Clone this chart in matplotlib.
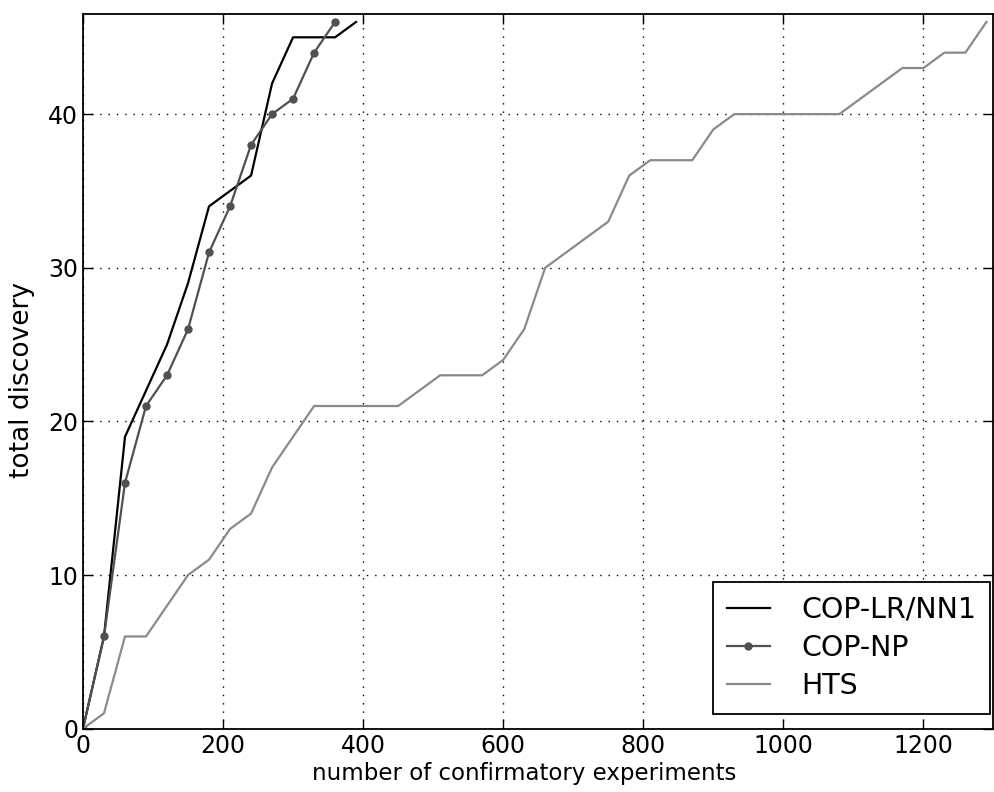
import numpy as np
import matplotlib
matplotlib.use("Agg")
import matplotlib.pyplot as plt

# experiments are sampled every 30 confirmatory runs
lr_x = [0, 30, 60, 90, 120, 150, 180, 210, 240, 270, 300, 330, 360, 390]
lr_y = [0, 6, 19, 22, 25, 29, 34, 35, 36, 42, 45, 45, 45, 46]

np_x = [0, 30, 60, 90, 120, 150, 180, 210, 240, 270, 300, 330, 360]
np_y = [0, 6, 16, 21, 23, 26, 31, 34, 38, 40, 41, 44, 46]

hts_x = list(range(0, 1291, 30))
hts_y = [0, 1, 6, 6, 8, 10, 11, 13, 14, 17, 19, 21, 21, 21, 21, 21, 22, 23, 23, 23,
         24, 26, 30, 31, 32, 33, 36, 37, 37, 37, 39, 40, 40, 40, 40, 40, 40, 41, 42,
         43, 43, 44, 44, 46]

fig = plt.figure(figsize=(9.95, 7.92), dpi=100)
ax = fig.add_axes([0.0834, 0.080, 0.915, 0.902])

ax.plot(lr_x, lr_y, color='black', lw=1.6, label='COP-LR/NN1')
ax.plot(np_x, np_y, color='#505050', lw=1.6, marker='o', ms=5, label='COP-NP')
ax.plot(hts_x, hts_y, color='#8a8a8a', lw=1.6, label='HTS')

ax.set_xlim(0, 1300)
ax.set_ylim(0, 46.5)
ax.set_xticks(np.arange(0, 1201, 200))
ax.set_yticks(np.arange(0, 41, 10))
ax.tick_params(direction='in', top=True, right=True, length=7, width=1, labelsize=17)
ax.grid(True, color='black', ls=(0, (1, 5)), lw=1)
for s in ax.spines.values():
    s.set_linewidth(1.3)

ax.set_xlabel('number of confirmatory experiments', fontsize=16.5)
ax.xaxis.set_label_coords(0.485, -0.047)
ax.set_ylabel('total discovery', fontsize=19)
ax.yaxis.set_label_coords(-0.053, 0.488)

leg = ax.legend(loc='lower right', bbox_to_anchor=(0.9967, 0.0206), borderaxespad=0,
                fontsize=20.5, fancybox=False, framealpha=1, edgecolor='black',
                handlelength=1.5, handletextpad=1.1, labelspacing=0.35, borderpad=0.5)
leg.get_frame().set_linewidth(1.3)

fig.savefig('out.png', dpi=100)
